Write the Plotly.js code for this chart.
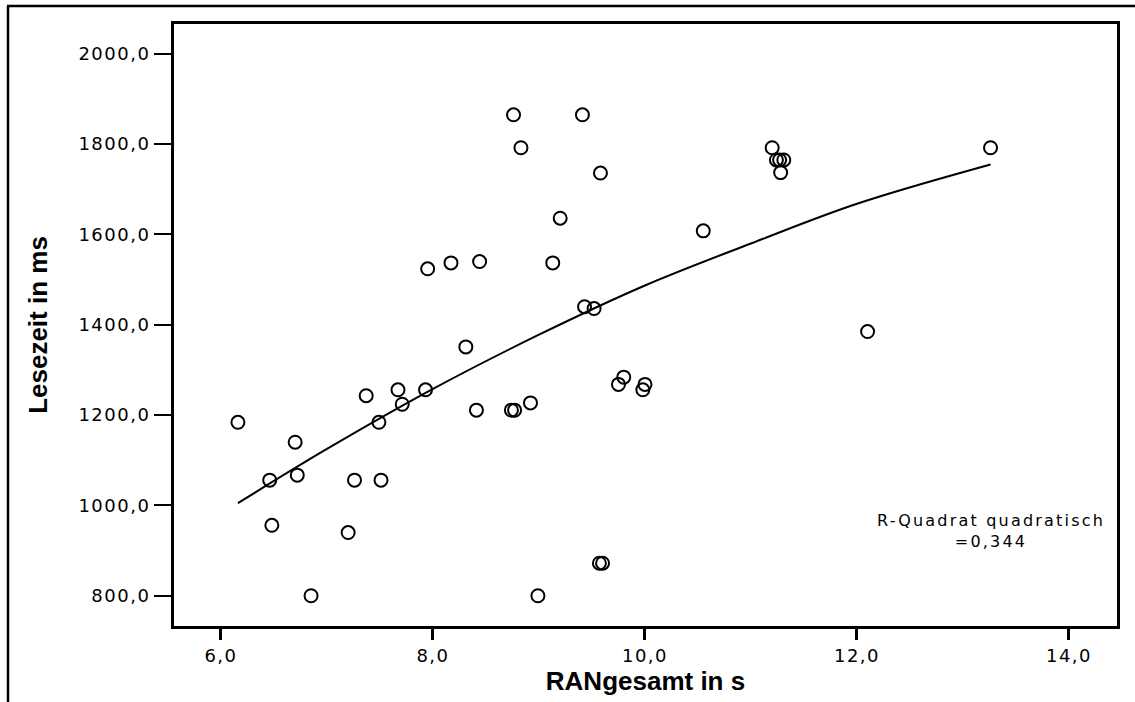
<!DOCTYPE html>
<html>
<head>
<meta charset="utf-8">
<script src="https://cdn.plot.ly/plotly-3.0.1.min.js"></script>
<style>
  html, body { margin: 0; padding: 0; background: #ffffff; }
  #chart { width: 1135px; height: 702px; }
  .xtick text, .ytick text { letter-spacing: 1.5px; }
  .annotation-text { letter-spacing: 2.2px; }
</style>
</head>
<body>
<div id="chart"></div>
<script>
// Scatter data: RANgesamt (s) vs. Lesezeit (ms)
const ranGesamt = [6.16, 6.70, 6.46, 6.72, 7.26, 7.51, 7.37, 7.49, 7.67, 7.71,
                   6.48, 7.20, 6.85, 7.93, 7.95, 8.17, 8.44, 8.31, 8.41, 8.74,
                   8.77, 8.92, 8.99, 8.76, 9.41, 8.83, 9.58, 9.20, 9.13, 9.43,
                   9.52, 10.55, 9.80, 9.75, 10.00, 9.98, 9.57, 9.60, 11.20, 11.24,
                   11.27, 11.31, 11.28, 13.26, 12.10];
const lesezeit = [1184, 1140, 1056, 1067, 1056, 1056, 1243, 1184, 1256, 1224,
                  956, 940, 800, 1256, 1524, 1537, 1540, 1351, 1211, 1211,
                  1211, 1227, 800, 1865, 1865, 1792, 1736, 1636, 1537, 1440,
                  1436, 1608, 1284, 1268, 1268, 1256, 872, 872, 1792, 1765,
                  1765, 1765, 1737, 1792, 1385];

// Quadratic fit curve
const fitX = [6.16, 7.0, 8.0, 9.0, 10.0, 11.0, 12.0, 13.26];
const fitY = [1005, 1125, 1258, 1378, 1487, 1580, 1668, 1755];

// Axis ticks
const xTicks = [6, 8, 10, 12, 14];
const yTicks = [800, 1000, 1200, 1400, 1600, 1800, 2000];

const annotationText = 'R-Quadrat quadratisch<br>=0,344';

const traces = [
  {
    x: ranGesamt, y: lesezeit,
    type: 'scatter', mode: 'markers',
    marker: { symbol: 'circle-open', size: 13, color: '#000000', line: { width: 2, color: '#000000' } },
    hoverinfo: 'x+y'
  },
  {
    x: fitX, y: fitY,
    type: 'scatter', mode: 'lines',
    line: { color: '#000000', width: 2, shape: 'spline', smoothing: 1 },
    hoverinfo: 'skip'
  }
];

const W = 1135, H = 702;
const M = { l: 174, r: 18, t: 24, b: 76 };
const pw = W - M.l - M.r, ph = H - M.t - M.b;
const px = v => (v - M.l) / pw;        // pixel x -> paper x
const py = v => (H - M.b - v) / ph;    // pixel y -> paper y

const tickFont = { family: 'DejaVu Sans, Arial, sans-serif', size: 18, color: '#000000' };
const titleFont = { family: 'Liberation Sans, Arial, sans-serif', size: 26, color: '#000000', weight: 'bold' };

const layout = {
  width: W, height: H,
  margin: M,
  paper_bgcolor: '#ffffff',
  plot_bgcolor: '#ffffff',
  showlegend: false,
  separators: ',.',
  xaxis: {
    range: [5.557, 14.453],
    tickvals: xTicks,
    tickformat: '.1f',
    ticks: 'outside', ticklen: 11, tickwidth: 3, tickcolor: '#000000',
    showline: true, linewidth: 3, linecolor: '#000000', mirror: true,
    showgrid: false, zeroline: false,
    tickfont: tickFont,
    title: { text: '<b>RANgesamt in s</b>', font: titleFont, standoff: 8 }
  },
  yaxis: {
    range: [733, 2066],
    tickvals: yTicks,
    tickformat: '.1f',
    ticks: 'outside', ticklen: 17, tickwidth: 2, tickcolor: '#000000',
    showline: true, linewidth: 3, linecolor: '#000000', mirror: true,
    showgrid: false, zeroline: false,
    tickfont: tickFont,
    title: { text: '<b>Lesezeit in ms</b>', font: titleFont, standoff: 24 }
  },
  annotations: [
    {
      text: annotationText,
      xref: 'paper', yref: 'paper',
      x: px(991), y: py(531),
      xanchor: 'center', yanchor: 'middle',
      align: 'center',
      showarrow: false,
      font: { family: 'DejaVu Sans, Arial, sans-serif', size: 16, color: '#000000' }
    }
  ],
  shapes: [
    { type: 'line', xref: 'paper', yref: 'paper', x0: px(8), x1: px(8), y0: py(704), y1: py(6),
      line: { color: '#000000', width: 2.5 } },
    { type: 'line', xref: 'paper', yref: 'paper', x0: px(7), x1: px(1137), y0: py(6), y1: py(6),
      line: { color: '#000000', width: 2.5 } }
  ]
};

Plotly.newPlot('chart', traces, layout, { displayModeBar: false, staticPlot: true });
</script>
</body>
</html>
